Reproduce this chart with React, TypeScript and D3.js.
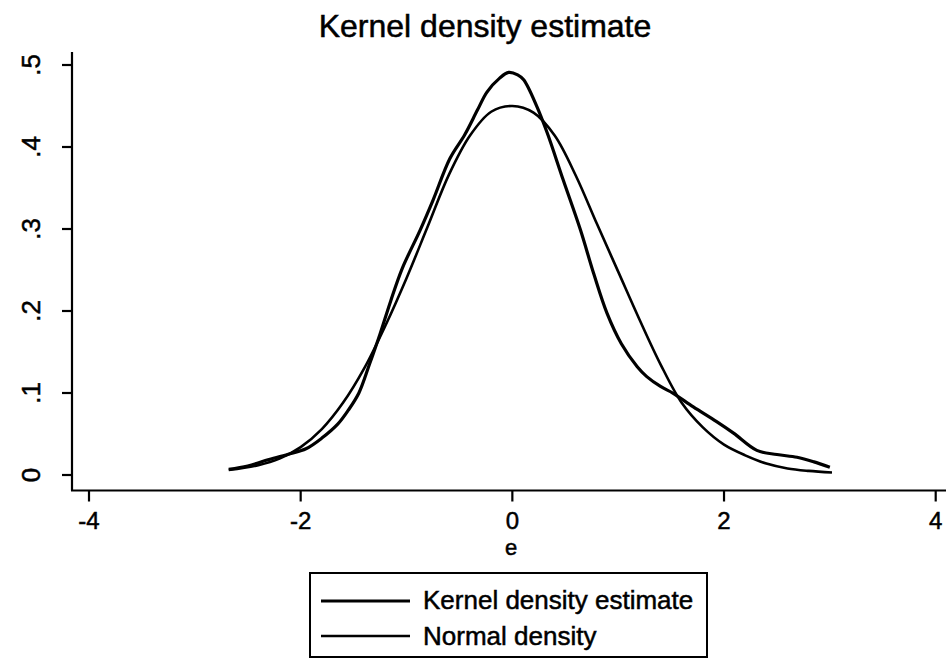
import React from "react";
import * as d3 from "d3";

// Kernel density estimate of residual e (x, density)
const kdeX = [-2.68, -2.5, -2.3, -2.1, -1.95, -1.8, -1.65, -1.55, -1.45, -1.35, -1.25, -1.15, -1.04, -0.87, -0.75, -0.59, -0.45, -0.33, -0.24, -0.12, -0.035, 0.05, 0.107, 0.233, 0.33, 0.48, 0.643, 0.77, 0.895, 1.03, 1.18, 1.27, 1.4, 1.52, 1.71, 1.93, 2.09, 2.31, 2.5, 2.69, 2.85, 3.0];
const kdeY = [0.007, 0.011, 0.019, 0.026, 0.032, 0.045, 0.062, 0.079, 0.1, 0.135, 0.172, 0.212, 0.252, 0.299, 0.335, 0.386, 0.415, 0.445, 0.467, 0.484, 0.491, 0.488, 0.482, 0.449, 0.417, 0.36, 0.299, 0.245, 0.197, 0.16, 0.132, 0.12, 0.108, 0.0996, 0.083, 0.065, 0.051, 0.03, 0.025, 0.0216, 0.016, 0.0094];

// Normal density overlay
const normX = [-2.68, -2.4, -2.2, -2.0, -1.8, -1.6, -1.4, -1.2, -1.0, -0.8, -0.6, -0.4, -0.2, 0.0, 0.2, 0.4, 0.6, 0.8, 1.0, 1.2, 1.4, 1.6, 1.8, 2.0, 2.2, 2.4, 2.6, 2.8, 3.02];
const normY = [0.006, 0.012, 0.02, 0.034, 0.056, 0.088, 0.13, 0.182, 0.24, 0.303, 0.366, 0.414, 0.443, 0.45, 0.442, 0.414, 0.365, 0.306, 0.248, 0.19, 0.135, 0.088, 0.058, 0.037, 0.024, 0.014, 0.008, 0.005, 0.003];

const xTicks = [-4, -2, 0, 2, 4];
const yTicks = [0, 0.1, 0.2, 0.3, 0.4, 0.5];
const yTickLabels = ["0", ".1", ".2", ".3", ".4", ".5"];

const title = "Kernel density estimate";
const xTitle = "e";
const legendLabels = ["Kernel density estimate", "Normal density"];

const W = 946;
const H = 658;
const FONT = "'Liberation Sans', Arial, Helvetica, sans-serif";

export default function App() {
  const x = d3.scaleLinear().domain([-4, 4]).range([89, 935.7]);
  const y = d3.scaleLinear().domain([0, 0.5]).range([475, 65]);

  const line = d3
    .line<[number, number]>()
    .x((d) => x(d[0]))
    .y((d) => y(d[1]))
    .curve(d3.curveCatmullRom.alpha(0.5));

  const kdePts = kdeX.map((v, i) => [v, kdeY[i]] as [number, number]);
  const normPts = normX.map((v, i) => [v, normY[i]] as [number, number]);

  const axisX = 72;
  const axisY = 490.5;
  const textStyle = { stroke: "#000", strokeWidth: 0.5 };

  return (
    <svg
      width={W}
      height={H}
      style={{ position: "absolute", left: 0, top: 0, background: "#fff" }}
      fontFamily={FONT}
    >
      <rect x={0} y={0} width={W} height={H} fill="#fff" />
      <text x={485} y={37} textAnchor="middle" fontSize={32} fill="#000" style={textStyle}>
        {title}
      </text>

      {/* y axis */}
      <line x1={axisX} x2={axisX} y1={52} y2={axisY} stroke="#000" strokeWidth={2.2} />
      {yTicks.map((t, i) => (
        <g key={t}>
          <line x1={axisX - 10} x2={axisX} y1={y(t)} y2={y(t)} stroke="#000" strokeWidth={2.2} />
          <text
            transform={`translate(40,${y(t)}) rotate(-90)`}
            textAnchor="middle"
            fontSize={26}
            fill="#000"
            style={textStyle}
          >
            {yTickLabels[i]}
          </text>
        </g>
      ))}

      {/* x axis */}
      <line x1={axisX - 1} x2={W} y1={axisY} y2={axisY} stroke="#000" strokeWidth={2.2} />
      {xTicks.map((t) => (
        <g key={t}>
          <line x1={x(t)} x2={x(t)} y1={axisY} y2={axisY + 11} stroke="#000" strokeWidth={2.2} />
          <text x={x(t)} y={529} textAnchor="middle" fontSize={24} fill="#000" style={textStyle}>
            {t}
          </text>
        </g>
      ))}
      <text x={511} y={555} textAnchor="middle" fontSize={22} fill="#000" style={textStyle}>
        {xTitle}
      </text>

      {/* density curves */}
      <path d={line(normPts) ?? ""} fill="none" stroke="#000" strokeWidth={2.6} strokeLinejoin="round" />
      <path d={line(kdePts) ?? ""} fill="none" stroke="#000" strokeWidth={3.2} strokeLinejoin="round" />

      {/* legend */}
      <rect x={310} y={573} width={397} height={84} fill="#fff" stroke="#000" strokeWidth={2} />
      <line x1={321} x2={410} y1={601} y2={601} stroke="#000" strokeWidth={3.2} />
      <line x1={321} x2={410} y1={636} y2={636} stroke="#000" strokeWidth={2.6} />
      <text x={423} y={609} fontSize={26} fill="#000" style={textStyle}>
        {legendLabels[0]}
      </text>
      <text x={423} y={645} fontSize={26} fill="#000" style={textStyle}>
        {legendLabels[1]}
      </text>
    </svg>
  );
}
